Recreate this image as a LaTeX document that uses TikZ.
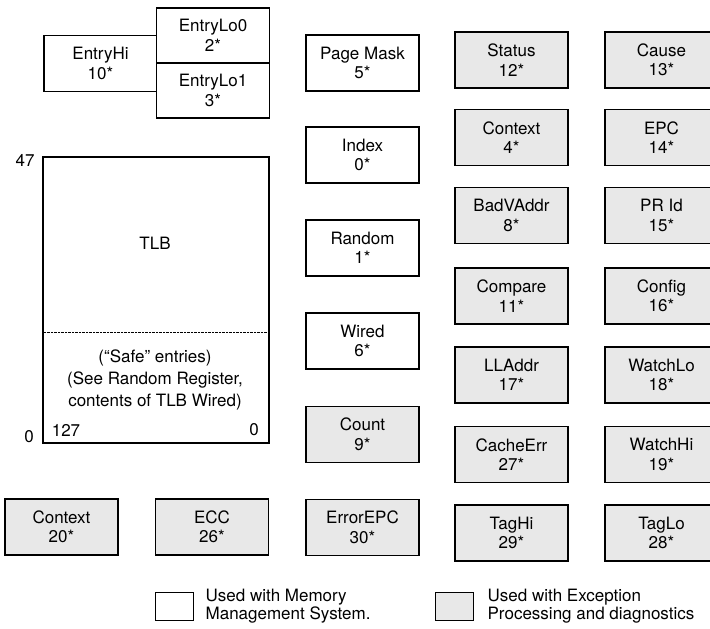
\documentclass[tikz,border=0pt]{standalone}
\usepackage{fontspec}
\setmainfont{TeX Gyre Heros}
\usepackage{tikz}
\usetikzlibrary{positioning, calc}
\newcommand{\regfont}{\fontsize{17}{19.5}\selectfont}
\tikzset{
	memnode/.style={
			rectangle,
			draw=black,
			line width=1.2pt,
			fill=white,
			minimum width=113pt,
			minimum height=56pt,
			inner sep=0pt,
			align=center,
			font=\regfont
		},
	excnode/.style={
			memnode,
			line width=1.4pt,
			fill=black!9
		},
	plainnode/.style={
			inner sep=0pt,
			font=\regfont
		},
	keynode/.style={
			rectangle,
			draw=black,
			line width=0.9pt,
			minimum width=38pt,
			minimum height=28pt,
			inner sep=0pt
		}
}

\begin{document}
\begin{tikzpicture}[x=1pt, y=-1pt]
    \useasboundingbox (0,0) rectangle (710,629);
    \clip (0,0) rectangle (710,629);

    \node[memnode] (entryhi) at (100.5,63.5)  { EntryHi\\10* };
    \node[memnode, minimum height=55pt] (entrylo0) at (213,35.5)  { EntryLo0\\2* };
    \node[memnode, minimum height=55pt] (entrylo1) at (213,90.5)  { EntryLo1\\3* };

    \node[memnode, minimum width=226pt, minimum height=286pt] (tlb) at (156,300)  {};
    \node[plainnode] (tlbname) at (155,243)  { TLB };
    \draw[densely dotted, thin] (tlb.west |- 0,332) -- (tlb.east |- 0,332);
    \node[plainnode, align=center, font=\fontsize{17}{22}\selectfont] (safe) at (155,380)
        { (``Safe'' entries)\\(See Random Register,\\contents of TLB Wired) };
    \node[plainnode] (top) at (25,160)  { 47 };
    \node[plainnode] (bottom) at (29,437)  { 0 };
    \node[plainnode] (left) at (66,430)  { 127 };
    \node[plainnode] (right) at (254,430)  { 0 };

    \node[memnode] (pagemask) at (362.5,63)  { Page Mask\\5* };
    \node[memnode] (index) at (362.5,155)  { Index\\0* };
    \node[memnode] (random) at (362.5,248)  { Random\\1* };
    \node[memnode] (wired) at (362.5,341)  { Wired\\6* };
    \node[excnode] (count) at (362.5,434.5)  { Count\\9* };
    \node[excnode] (errorepc) at (362.5,527.5)  { ErrorEPC\\30* };

    \node[excnode] (status) at (511.5,60)  { Status\\12* };
    \node[excnode] (context) at (511.5,137.5)  { Context\\4* };
    \node[excnode] (badvaddr) at (511.5,215.5)  { BadVAddr\\8* };
    \node[excnode] (compare) at (511.5,296)  { Compare\\11* };
    \node[excnode] (lladdr) at (511.5,375)  { LLAddr\\17* };
    \node[excnode] (cacheerr) at (511.5,454.5)  { CacheErr\\27* };
    \node[excnode] (taghi) at (511.5,533)  { TagHi\\29* };

    \node[excnode] (cause) at (661.5,60)  { Cause\\13* };
    \node[excnode] (epc) at (661.5,137.5)  { EPC\\14* };
    \node[excnode] (prid) at (661.5,215.5)  { PR Id\\15* };
    \node[excnode] (config) at (661.5,296)  { Config\\16* };
    \node[excnode] (watchlo) at (661.5,375)  { WatchLo\\18* };
    \node[excnode] (watchhi) at (661.5,454.5)  { WatchHi\\19* };
    \node[excnode] (taglo) at (661.5,533)  { TagLo\\28* };

    \node[excnode] (xcontext) at (61.5,527)  { Context\\20* };
    \node[excnode] (ecc) at (212,527)  { ECC\\26* };

    % legend
    \node[keynode] (memkey) at (174,606)  {};
    \node[plainnode, align=left, anchor=west, font=\fontsize{17}{18}\selectfont, right=12pt of memkey]
        (memtext)  { Used with Memory\\Management System. };
    \node[keynode, fill=black!9] (exckey) at (454,606)  {};
    \node[plainnode, align=left, anchor=west, font=\fontsize{17}{18}\selectfont, right=14pt of exckey]
        (exctext)  { Used with Exception\\Processing and diagnostics };
\end{tikzpicture}
\end{document}
